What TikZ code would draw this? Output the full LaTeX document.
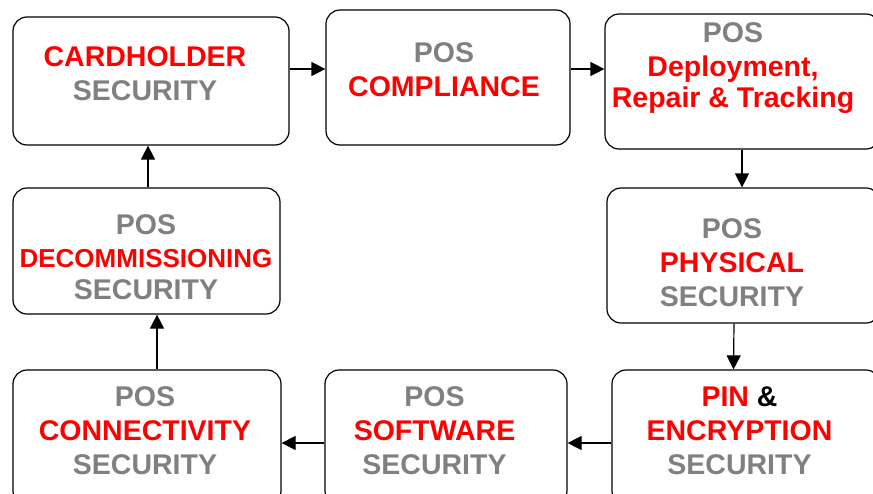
\documentclass[tikz,border=0pt]{standalone}
\usepackage{fontspec}
\setmainfont{Liberation Sans}
\usetikzlibrary{arrows.meta}
\definecolor{RedText}{rgb}{1,0,0}
\definecolor{GrayText}{rgb}{0.5,0.5,0.5}
\tikzset{
  box/.style={draw, line width=1.2pt, rounded corners=14pt, inner sep=0pt},
  boxtext/.style={align=center, inner sep=0pt, font=\bfseries\fontsize{28.5}{34}\selectfont},
  flow/.style={line width=1.2pt, -{Triangle[length=14pt,width=14pt]}}
}

\begin{document}
\begin{tikzpicture}[x=1pt, y=-1pt]
    \path[use as bounding box, clip] (0,0) rectangle (873,493);
    %%Boxes
    \node[box, minimum width=276pt, minimum height=128pt] (card) at (151,81) {};
    \node[box, minimum width=244pt, minimum height=135pt] (comp) at (448,77.5) {};
    \node[box, minimum width=275pt, minimum height=135pt] (deploy) at (742.5,81.5) {};
    \node[box, minimum width=273pt, minimum height=135pt] (phys) at (743.5,255.5) {};
    \node[box, minimum width=268pt, minimum height=135pt] (pin) at (746,437.5) {};
    \node[box, minimum width=242pt, minimum height=135pt] (soft) at (446,437.5) {};
    \node[box, minimum width=268pt, minimum height=135pt] (conn) at (147,437.5) {};
    \node[box, minimum width=267pt, minimum height=126pt] (decom) at (146.5,251) {};
    %%Texts
    \node[boxtext] (card-t) at (145,73.5) {\color{RedText}CARDHOLDER\\\color{GrayText}SECURITY};
    \node[boxtext] (comp-t) at (444,69.5) {\color{GrayText}POS\\\color{RedText}COMPLIANCE};
    \node[boxtext] (deploy-t) at (733,68) {\color{GrayText}POS\\\color{RedText}Deployment,\\[-3pt]\color{RedText}Repair \& Tracking};
    \node[boxtext] (phys-t) at (732,262.5) {\color{GrayText}POS\\\color{RedText}PHYSICAL\\\color{GrayText}SECURITY};
    \node[boxtext] (pin-t) at (739.5,430.5) {\color{RedText}PIN \color{black}\&\\\color{RedText}ENCRYPTION\\\color{GrayText}SECURITY};
    \node[boxtext] (soft-t) at (434.5,430.5) {\color{GrayText}POS\\\color{RedText}SOFTWARE\\\color{GrayText}SECURITY};
    \node[boxtext] (conn-t) at (145,431) {\color{GrayText}POS\\\color{RedText}CONNECTIVITY\\\color{GrayText}SECURITY};
    \node[boxtext] (decom-t) at (146,257.5) {\color{GrayText}POS\\[-1.5pt]\color{RedText}{\fontsize{26}{32}\selectfont DECOMMISSIONING}\\[-1.5pt]\color{GrayText}SECURITY};
    %%Flow
    \draw[flow] ([yshift=12pt]card.east) -- ([yshift=8.5pt]comp.west);
    \draw[flow] ([yshift=8.5pt]comp.east) -- ([yshift=12.5pt]deploy.west);
    \draw[flow] ([xshift=-0.5pt]deploy.south) -- ([xshift=-1.5pt]phys.north);
    \draw[flow] ([xshift=-9.5pt]phys.south) -- ([xshift=-12.5pt]pin.north);
    \draw[flow] ([yshift=-5.5pt]pin.west) -- ([yshift=-5.5pt]soft.east);
    \draw[flow] ([yshift=-5.5pt]soft.west) -- ([yshift=-5.5pt]conn.east);
    \draw[flow] ([xshift=10pt]conn.north) -- ([xshift=10.5pt]decom.south);
    \draw[flow] ([xshift=1.5pt]decom.north) -- ([xshift=-3pt]card.south);
\end{tikzpicture}
\end{document}
